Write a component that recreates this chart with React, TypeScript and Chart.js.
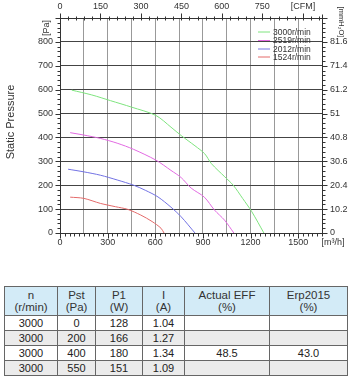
import React, { useEffect, useRef } from 'react';
import { Chart, registerables } from 'chart.js';
Chart.register(...registerables);

const seriesLabels = ['3000r/min', '2519r/min', '2012r/min', '1524r/min'];
const seriesColors = ['#7ee47e', '#e26ae2', '#7272e4', '#e46a6a'];

const flow3000 = [74, 200, 318, 450, 604, 699, 763, 850, 911, 954, 1038, 1091, 1150, 1208, 1284];
const pst3000 = [598, 578, 554, 527, 492, 443, 408, 365, 332, 290, 235, 200, 145, 89, 0];
const flow2519 = [64, 150, 254, 360, 464, 604, 699, 763, 826, 909, 973, 1036, 1095];
const pst2519 = [420, 410, 396, 376, 350, 305, 262, 232, 188, 150, 96, 54, 0];
const flow2012 = [51, 150, 254, 360, 464, 540, 617, 699, 763, 850];
const pst2012 = [267, 256, 242, 222, 200, 178, 151, 108, 68, 0];
const flow1524 = [64, 150, 254, 350, 426, 509, 580, 636, 655];
const pst1524 = [150, 145, 124, 110, 99, 75, 48, 20, 0];

const flowTicks = [0, 300, 600, 900, 1200, 1500];
const cfmTicks = [0, 150, 300, 450, 600, 750];
const paTicks = [0, 100, 200, 300, 400, 500, 600, 700, 800];
const mmTicks = ['0', '10.2', '20.4', '30.6', '40.8', '51', '61.2', '71.4', '81.6'];

const tableHeader = [['n', '(r/min)'], ['Pst', '(Pa)'], ['P1', '(W)'], ['I', '(A)'], ['Actual EFF', '(%)'], ['Erp2015', '(%)']];
const tableRows = [
  ['3000', '0', '128', '1.04', '', ''],
  ['3000', '200', '166', '1.27', '', ''],
  ['3000', '400', '180', '1.34', '48.5', '43.0'],
  ['3000', '550', '151', '1.09', '', ''],
];

const XMAX = 1650;
const YMAX = 900;
const M3H_PER_CFM = 1.699;
const MM_PER_PA = 0.102;
const FONT = '"Liberation Sans", Arial, sans-serif';

const toPts = (xs: number[], ys: number[]) => xs.map((x, i) => ({ x, y: ys[i] }));

const decorPlugin = {
  id: 'decor',
  afterDraw(chart: any) {
    const { ctx, chartArea, scales } = chart;
    const { left, right, top, bottom } = chartArea;
    ctx.save();
    ctx.strokeStyle = '#333';
    ctx.lineWidth = 1;
    const line = (x1: number, y1: number, x2: number, y2: number) => {
      ctx.beginPath();
      ctx.moveTo(x1, y1);
      ctx.lineTo(x2, y2);
      ctx.stroke();
    };
    // frame
    ctx.strokeRect(Math.round(left) + 0.5, Math.round(top) + 0.5, Math.round(right - left), Math.round(bottom - top));
    const B = Math.round(bottom) + 0.5, T = Math.round(top) + 0.5, L = Math.round(left) + 0.5, R = Math.round(right) + 0.5;
    // bottom ticks
    for (let v = 0; v <= XMAX; v += 30) {
      const px = Math.round(scales.x.getPixelForValue(v)) + 0.5;
      line(px, B, px, B + (v % 300 === 0 ? 5 : 3));
    }
    // top ticks (CFM)
    const cfmMax = XMAX / M3H_PER_CFM;
    for (let v = 0; v <= cfmMax; v += 30) {
      const px = Math.round(scales.x2.getPixelForValue(v)) + 0.5;
      line(px, T + 2, px, T - (v % 150 === 0 ? 5 : 2));
    }
    // left ticks
    for (let v = 0; v <= YMAX; v += 20) {
      const py = Math.round(scales.y.getPixelForValue(v)) + 0.5;
      line(L, py, L - (v % 100 === 0 ? 5 : 3), py);
    }
    // right ticks
    const mmMax = YMAX * MM_PER_PA;
    for (let i = 0; i * 2.04 <= mmMax + 0.01; i++) {
      const py = Math.round(scales.y2.getPixelForValue(i * 2.04)) + 0.5;
      line(R, py, R + (i % 5 === 0 ? 5 : 3), py);
    }
    // axis extension lines
    line(L, T, L, T - 4);
    line(R, T, R, T - 4);

    ctx.fillStyle = '#333';
    ctx.font = `9px ${FONT}`;
    ctx.textBaseline = 'middle';
    ctx.textAlign = 'center';
    ctx.fillText('[m³/h]', 333, 243);
    ctx.fillText('[CFM]', 303, 7);
    // rotated unit labels
    ctx.save();
    ctx.translate(47, 28);
    ctx.rotate(-Math.PI / 2);
    ctx.fillText('[Pa]', 0, 0);
    ctx.restore();
    ctx.save();
    ctx.font = `7.5px ${FONT}`;
    ctx.translate(341, 22);
    ctx.rotate(Math.PI / 2);
    ctx.fillText('[mmH₂O]', 0, 0);
    ctx.restore();
    // Static Pressure
    ctx.save();
    ctx.font = `11px ${FONT}`;
    ctx.translate(11, 122);
    ctx.rotate(-Math.PI / 2);
    ctx.fillText('Static Pressure', 0, 0);
    ctx.restore();
    // legend
    ctx.font = `8.5px ${FONT}`;
    ctx.textAlign = 'left';
    const ly = [32, 40.5, 49, 57];
    chart.data.datasets.forEach((ds: any, i: number) => {
      ctx.strokeStyle = ds.borderColor;
      line(258, ly[i], 270, ly[i]);
      ctx.fillStyle = '#333';
      ctx.fillText(ds.label, 273, ly[i] + 0.5);
    });
    ctx.restore();
  },
};

function PerfChart() {
  const ref = useRef<HTMLCanvasElement | null>(null);
  useEffect(() => {
    if (!ref.current) return;
    const tickFont = { family: FONT, size: 9 };
    const chart = new Chart(ref.current, {
      type: 'line',
      data: {
        datasets: [
          { label: seriesLabels[0], data: toPts(flow3000, pst3000), borderColor: seriesColors[0] },
          { label: seriesLabels[1], data: toPts(flow2519, pst2519), borderColor: seriesColors[1] },
          { label: seriesLabels[2], data: toPts(flow2012, pst2012), borderColor: seriesColors[2] },
          { label: seriesLabels[3], data: toPts(flow1524, pst1524), borderColor: seriesColors[3] },
        ].map((d) => ({ ...d, borderWidth: 1, pointRadius: 0, tension: 0.3, fill: false })),
      },
      options: {
        animation: false,
        responsive: false,
        maintainAspectRatio: false,
        layout: { padding: 0 },
        plugins: { legend: { display: false }, tooltip: { enabled: false } },
        scales: {
          x: {
            type: 'linear',
            position: 'bottom',
            min: 0,
            max: XMAX,
            afterBuildTicks: (s: any) => {
              const t = [];
              for (let v = 0; v <= XMAX; v += 150) t.push({ value: v });
              s.ticks = t;
            },
            afterFit: (s: any) => { s.height = 17; },
            ticks: {
              autoSkip: false,
              maxRotation: 0,
              padding: 4,
              color: '#333',
              font: tickFont,
              callback: (v: any) => (flowTicks.includes(Number(v)) ? String(v) : ''),
            },
            grid: { color: '#999', lineWidth: 1, drawTicks: false },
            border: { display: false },
          },
          x2: {
            type: 'linear',
            position: 'top',
            min: 0,
            max: XMAX / M3H_PER_CFM,
            afterBuildTicks: (s: any) => { s.ticks = cfmTicks.map((v) => ({ value: v })); },
            afterFit: (s: any) => { s.height = 18; },
            ticks: { autoSkip: false, maxRotation: 0, padding: 6, color: '#333', font: tickFont },
            grid: { display: true, drawOnChartArea: false, drawTicks: false },
            border: { display: false },
          },
          y: {
            type: 'linear',
            position: 'left',
            min: 0,
            max: YMAX,
            afterBuildTicks: (s: any) => {
              const t = [];
              for (let v = 0; v <= YMAX; v += 100) t.push({ value: v });
              s.ticks = t;
            },
            afterFit: (s: any) => { s.width = 60; },
            ticks: {
              autoSkip: false,
              padding: 7,
              color: '#333',
              font: tickFont,
              callback: (v: any) => (paTicks.includes(Number(v)) ? String(v) : ''),
            },
            grid: { color: '#444', lineWidth: 1, drawTicks: false },
            border: { display: false },
          },
          y2: {
            type: 'linear',
            position: 'right',
            min: 0,
            max: YMAX * MM_PER_PA,
            afterBuildTicks: (s: any) => { s.ticks = mmTicks.map((v) => ({ value: parseFloat(v) })); },
            afterFit: (s: any) => { s.width = 31; },
            ticks: {
              autoSkip: false,
              padding: 8,
              color: '#333',
              font: tickFont,
              callback: (v: any) => {
                const m = mmTicks.find((t) => Math.abs(parseFloat(t) - Number(v)) < 1e-6);
                return m ?? '';
              },
            },
            grid: { display: true, drawOnChartArea: false, drawTicks: false },
            border: { display: false },
          },
        },
      } as any,
      plugins: [decorPlugin],
    });
    return () => chart.destroy();
  }, []);
  return <canvas ref={ref} width={353} height={250} style={{ position: 'absolute', left: 0, top: 0, width: 353, height: 250 }} />;
}

export default function App() {
  const colW = [53, 38, 47, 42, 85, 78];
  const cell: React.CSSProperties = {
    border: '1px solid #666',
    textAlign: 'center',
    padding: 0,
    fontFamily: FONT,
    fontSize: 11,
    fontWeight: 400,
    color: '#222',
    lineHeight: '12px',
  };
  return (
    <div style={{ position: 'absolute', left: 0, top: 0, width: 353, height: 377, background: '#fff', overflow: 'hidden' }}>
      <PerfChart />
      <table
        style={{
          position: 'absolute',
          left: 4,
          top: 286,
          width: 343,
          borderCollapse: 'collapse',
          tableLayout: 'fixed',
        }}
      >
        <colgroup>
          {colW.map((w, i) => (
            <col key={i} style={{ width: w }} />
          ))}
        </colgroup>
        <tbody>
          <tr style={{ height: 29, background: '#d3ebf7' }}>
            {tableHeader.map((h, i) => (
              <td key={i} style={{ ...cell, fontSize: 11.5, color: '#333' }}>
                {h[0]}
                <br />
                {h[1]}
              </td>
            ))}
          </tr>
          {tableRows.map((r, ri) => (
            <tr key={ri} style={{ height: 15, background: ri % 2 === 1 ? '#ebebeb' : '#fff' }}>
              {r.map((c, ci) => (
                <td key={ci} style={cell}>
                  {c}
                </td>
              ))}
            </tr>
          ))}
        </tbody>
      </table>
    </div>
  );
}
